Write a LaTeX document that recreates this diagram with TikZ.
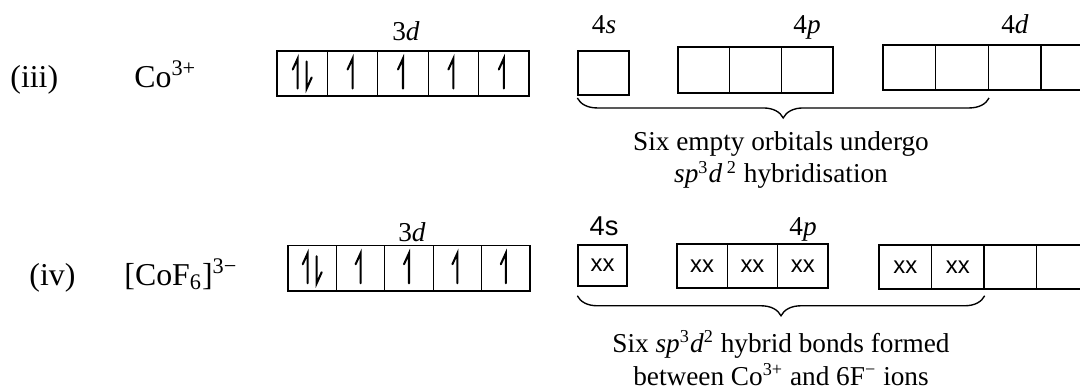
\documentclass[tikz,border=0pt]{standalone}
\usepackage{fontspec}
\setmainfont{Liberation Serif}
\setsansfont{Liberation Sans}
\usetikzlibrary{decorations.pathreplacing}

\newcommand{\px}{0.44pt}
% a row of orbital boxes: name, left, top, count, box width, box height
\newcommand{\orbitals}[6]{%
  \foreach \i in {1,...,#4} {
    \node[orb, minimum width=#5*\px, minimum height=#6*\px] (#1\i) at ({#2+(\i-0.5)*#5}, {#3+#6/2}) {};
  }
}
% single electron and electron pair
\newcommand{\spinup}[1]{\draw[spin, shift={(#1)}] (0,15) -- (0,-15) -- (-5,-4);}
\newcommand{\spinpair}[1]{%
  \draw[spin, shift={(#1)}] (-4.5,15) -- (-4.5,-15) -- (-9.5,-4);
  \draw[spin, shift={(#1)}] (4.5,-12) -- (4.5,15) -- (9.5,4);}

\tikzset{
  orb/.style={draw, line width=0.6pt, inner sep=0pt},
  spin/.style={line width=0.9pt, line cap=round},
  big/.style={font=\fontsize{14}{16}\selectfont, inner sep=0pt},
  lbl/.style={font=\fontsize{12}{14}\selectfont, inner sep=0pt},
  note/.style={font=\fontsize{12}{14.5}\selectfont, inner sep=0pt, align=center},
  pairx/.style={font=\sffamily\fontsize{10.5}{12}\selectfont, inner sep=0pt},
  hybrid/.style={decorate, decoration={brace, mirror, amplitude=8.8pt}, line width=0.6pt}
}

\begin{document}
\begin{tikzpicture}[x=\px, y=-\px]
  \useasboundingbox (0,0) rectangle (1080,390);
  \clip (0,0) rectangle (1080,390);

  % (iii) Co3+
  \node[big, anchor=base west] (iii) at (10,87) {(iii)};
  \node[big, anchor=base west] (coA) at (134,87) {Co\textsuperscript{3+}};

  \orbitals{tdA}{277}{51}{5}{50.4}{45}
  \orbitals{fsA}{578}{51}{1}{51}{44}
  \orbitals{fpA}{678}{47}{3}{51.7}{46}
  \orbitals{fdA}{883}{45}{5}{52.7}{45}

  \spinpair{tdA1}
  \foreach \n in {2,...,5} {\spinup{tdA\n}}

  \node[lbl, anchor=base] (tdLA) at (406,40) {3\textit{d}};
  \node[lbl, anchor=base] (fsLA) at (604,33) {4\textit{s}};
  \node[lbl, anchor=base] (fpLA) at (807,33) {4\textit{p}};
  \node[lbl, anchor=base] (fdLA) at (1015,33) {4\textit{d}};

  \draw[hybrid] ([yshift=-1pt]fsA1.south west) -- ([yshift=-1pt]fsA1.south west -| fdA2.south east);
  \node[note] (noteA) at (781,160) {Six empty orbitals undergo\\
    \textit{sp}\textsuperscript{3}\textit{d}\,\textsuperscript{2} hybridisation};

  % (iv) [CoF6]3-
  \node[big, anchor=base west] (iv) at (29,285) {(iv)};
  \node[big, anchor=base west] (coB) at (124,285) {[CoF\textsubscript{6}]\textsuperscript{3−}};

  \orbitals{tdB}{288}{245.5}{5}{48.4}{45.5}
  \orbitals{fsB}{578}{245}{1}{49}{41}
  \orbitals{fpB}{677}{244}{3}{50.3}{44}
  \orbitals{fdB}{879}{245}{5}{52.5}{44}

  \spinpair{tdB1}
  \foreach \n in {2,...,5} {\spinup{tdB\n}}

  % electron pairs donated by F-
  \foreach \n in {fsB1,fpB1,fpB2,fpB3,fdB1,fdB2} {
    \node[pairx] (x\n) at (\n) {xx};
  }

  \node[lbl, anchor=base] (tdLB) at (412,241) {3\textit{d}};
  \node[lbl, anchor=base] (fsLB) at (604,235) {\sffamily 4s};
  \node[lbl, anchor=base] (fpLB) at (803,235) {4\textit{p}};

  \draw[hybrid] ([yshift=-4pt]fsB1.south west) -- ([yshift=-4pt]fsB1.south west -| fdB2.south east);
  \node[note] (noteB) at (781,358) {Six \textit{sp}\textsuperscript{3}\textit{d}\textsuperscript{2} hybrid bonds formed\\
    between Co\textsuperscript{3+} and 6F\textsuperscript{−} ions};
\end{tikzpicture}
\end{document}
